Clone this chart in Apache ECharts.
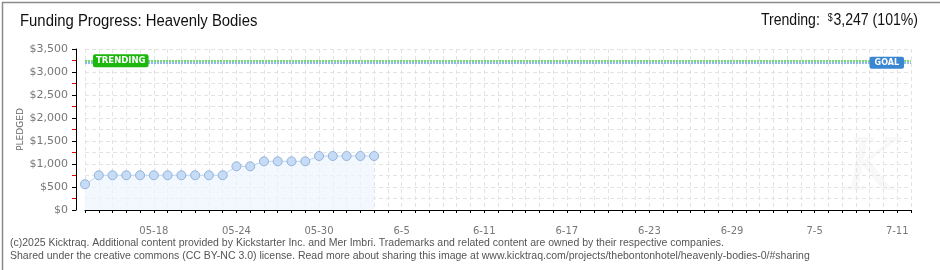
<!DOCTYPE html>
<html>
<head>
<meta charset="utf-8">
<title>Funding Progress: Heavenly Bodies</title>
<script src="https://cdn.jsdelivr.net/npm/echarts@6/dist/echarts.min.js"></script>
<style>
  html, body { margin: 0; padding: 0; background: #fff; }
  #chart { width: 940px; height: 270px; }
</style>
</head>
<body>
<div id="chart"></div>
<script>
// pledged total per day, from 05-13
var pledged = [560, 755, 755, 755, 755, 755, 755, 755, 755, 755, 755,
               950, 950, 1058, 1058, 1058, 1058, 1174, 1174, 1174, 1174, 1174];
var trending = 3247;
var goal = 3200;
var trendingPct = 101;

// campaign days, 05-13 .. 07-12
var months = [['05', 13, 31], ['06', 1, 30], ['07', 1, 12]];
var days = [];
months.forEach(function (m) {
  for (var d = m[1]; d <= m[2]; d++) {
    days.push(m[0] + '-' + (d < 10 ? '0' + d : d));
  }
});

// x labels (every 6th day starting at 05-18)
var tickLabels = ['05-18', '05-24', '05-30', '6-5', '6-11', '6-17', '6-23', '6-29', '7-5', '7-11'];
var firstLabel = 5;
var labelStep = 6;

var yMax = 3500;
var yStep = 500;

var sans = '"Liberation Sans", Arial, sans-serif';
var small = '"DejaVu Sans", sans-serif';

var chart = echarts.init(document.getElementById('chart'));

var option = {
  animation: false,
  backgroundColor: '#fff',
  grid: { left: 85, right: 29, top: 49, bottom: 60 },
  xAxis: {
    type: 'category',
    data: days,
    boundaryGap: false,
    offset: 10,
    axisLine: { lineStyle: { color: '#000', width: 1 } },
    axisTick: { interval: 0, length: 3, lineStyle: { color: '#000' } },
    axisLabel: {
      interval: function (idx) { return (idx - firstLabel) % labelStep === 0; },
      formatter: function (val, idx) {
        return (idx - firstLabel) % labelStep === 0 ? tickLabels[(idx - firstLabel) / labelStep] : '';
      },
      margin: 6,
      color: '#777',
      fontFamily: small,
      fontSize: 10
    },
    splitLine: {
      show: true,
      interval: 0,
      lineStyle: { color: '#e3e3e3', type: [4, 3] }
    }
  },
  yAxis: {
    type: 'value',
    min: 0,
    max: yMax,
    interval: yStep,
    offset: 9,
    name: 'PLEDGED',
    nameLocation: 'middle',
    nameRotate: 90,
    nameGap: 51,
    nameMoveOverlap: false,
    nameTextStyle: { color: '#666', fontFamily: small, fontSize: 9 },
    axisLine: { show: true, lineStyle: { color: '#000' } },
    axisTick: { show: true, length: 4, lineStyle: { color: '#000' } },
    minorTick: { show: true, splitNumber: 2, length: 4, lineStyle: { color: '#d00' } },
    axisLabel: {
      margin: 8,
      color: '#777',
      fontFamily: small,
      fontSize: 11,
      formatter: function (v) { return '$' + v.toLocaleString('en-US'); }
    },
    splitLine: { lineStyle: { color: '#e3e3e3', type: [4, 3] } },
    minorSplitLine: { show: true, lineStyle: { color: '#e3e3e3', type: [4, 3] } }
  },
  series: [
    {
      name: 'Pledged',
      type: 'line',
      data: pledged,
      symbol: 'circle',
      symbolSize: 9,
      itemStyle: { color: '#c6dcf6', borderColor: '#93b3da', borderWidth: 1 },
      lineStyle: { color: '#bcd5f2', width: 1 },
      areaStyle: { color: '#eef4fd' },
      markLine: {
        silent: true,
        symbol: 'none',
        label: { show: false },
        data: [
          { yAxis: goal, lineStyle: { color: '#6aa4e6', width: 1.6, type: [2, 1] } },
          { yAxis: trending, lineStyle: { color: '#4fcf4f', width: 1.6, type: [2, 1] } }
        ]
      }
    }
  ],
  graphic: [
    {
      type: 'rect',
      left: 0, top: 0, z: 100, silent: true,
      shape: { x: 0.5, y: 0.5, width: 939, height: 269 },
      style: { fill: 'none', stroke: '#8a8a8a', lineWidth: 1.5 }
    },
    {
      type: 'text',
      x: 20, y: 22, scaleX: 0.93,
      style: {
        text: 'Funding Progress: Heavenly Bodies',
        fill: '#111', font: '16px ' + sans,
        align: 'left', verticalAlign: 'middle'
      }
    },
    {
      type: 'text',
      x: 918, y: 21, scaleX: 0.88,
      style: {
        text: 'Trending:  {s|$}' + trending.toLocaleString('en-US') + ' (' + trendingPct + '%)',
        fill: '#111',
        font: '16px ' + sans,
        align: 'right', verticalAlign: 'middle',
        rich: { s: { fontSize: 10, verticalAlign: 'top', padding: [0, 1, 6, 0], fontFamily: sans } }
      }
    },
    {
      type: 'text',
      x: 10, y: 243,
      style: {
        text: '(c)2025 Kicktraq. Additional content provided by Kickstarter Inc. and Mer Imbri. Trademarks and related content are owned by their respective companies.',
        fill: '#555', font: '10.5px ' + sans, verticalAlign: 'middle'
      }
    },
    {
      type: 'text',
      x: 10, y: 256,
      style: {
        text: 'Shared under the creative commons (CC BY-NC 3.0) license. Read more about sharing this image at www.kicktraq.com/projects/thebontonhotel/heavenly-bodies-0/#sharing',
        fill: '#555', font: '10.5px ' + sans, verticalAlign: 'middle'
      }
    },
    {
      type: 'text',
      x: 845, y: 135, z: -1, silent: true,
      style: { text: 'K', fill: '#f8f8f8', font: 'italic 72px "DejaVu Serif", serif' }
    }
  ]
};

chart.setOption(option);

// tag boxes sitting on the trending / goal lines
var grid = { left: 85, right: 940 - 29 };
var yTrend = chart.convertToPixel({ yAxisIndex: 0 }, trending);
var yGoal = chart.convertToPixel({ yAxisIndex: 0 }, goal);

chart.setOption({
  graphic: option.graphic.concat([
    {
      type: 'text',
      x: grid.left + 8, y: yTrend, z: 50,
      style: {
        text: 'TRENDING', fill: '#fff', font: 'bold 8.5px ' + small,
        verticalAlign: 'middle', align: 'left',
        backgroundColor: '#1cb80e', borderRadius: 2, padding: [2, 3, 2, 3]
      }
    },
    {
      type: 'text',
      x: grid.right - 7, y: yGoal, z: 50,
      style: {
        text: 'GOAL', fill: '#fff', font: 'bold 8px ' + small,
        verticalAlign: 'middle', align: 'right',
        backgroundColor: '#3a86d2', borderRadius: 2, padding: [2, 5, 2, 5]
      }
    }
  ])
});
</script>
</body>
</html>
